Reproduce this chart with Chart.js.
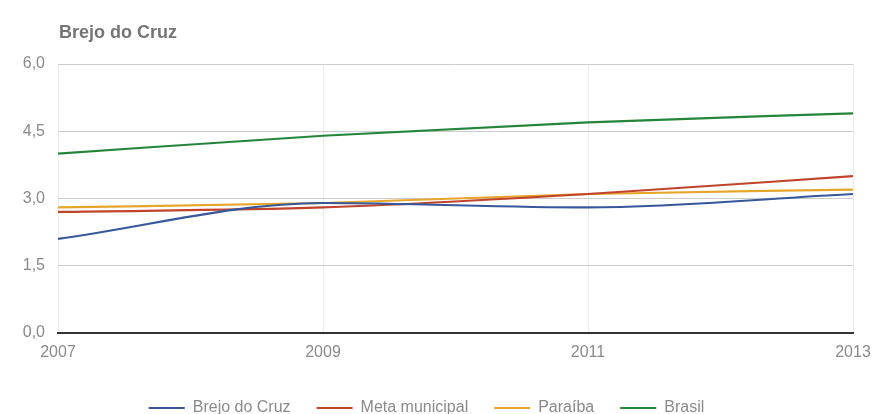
<!DOCTYPE html>
<html>
<head>
<meta charset="utf-8">
<script src="https://cdn.jsdelivr.net/npm/chart.js@4/dist/chart.umd.min.js"></script>
<style>
  html, body { margin: 0; padding: 0; background: #fff; }
</style>
</head>
<body>
<canvas id="chart" width="873" height="414"></canvas>
<script>
const years = [2007, 2009, 2011, 2013];
const brejoDoCruz = [2.1, 2.9, 2.8, 3.1];
const metaMunicipal = [2.7, 2.8, 3.1, 3.5];
const paraiba = [2.8, 2.9, 3.1, 3.2];
const brasil = [4.0, 4.4, 4.7, 4.9];
const yTicks = [0, 1.5, 3, 4.5, 6];
const xTicks = [2007, 2009, 2011, 2013];

const FONT = "Arial, 'Liberation Sans', sans-serif";

function toPoints(vals) {
  return vals.map((v, i) => ({ x: years[i], y: v }));
}

function series(label, vals, color) {
  return {
    label: label,
    data: toPoints(vals),
    borderColor: color,
    backgroundColor: color,
    borderWidth: 2.2,
    pointRadius: 0,
    pointHoverRadius: 0,
    cubicInterpolationMode: "monotone",
    fill: false
  };
}

// title drawn at the left edge of the plot area
const titlePlugin = {
  id: "leftTitle",
  afterDraw(chart) {
    const ctx = chart.ctx;
    ctx.save();
    ctx.font = "bold 18px " + FONT;
    ctx.fillStyle = "#757575";
    ctx.textBaseline = "middle";
    ctx.textAlign = "left";
    ctx.fillText("Brejo do Cruz", chart.chartArea.left + 1, 33);
    ctx.restore();
  }
};

const config = {
  type: "line",
  data: {
    datasets: [
      series("Brejo do Cruz", brejoDoCruz, "#36589a"),
      series("Meta municipal", metaMunicipal, "#c0432a"),
      series("Paraíba", paraiba, "#e6a62c"),
      series("Brasil", brasil, "#23853a")
    ]
  },
  plugins: [titlePlugin],
  options: {
    responsive: false,
    animation: false,
    layout: { padding: { top: 64, right: 20, left: 0, bottom: -12 } },
    plugins: {
      title: { display: false },
      tooltip: { enabled: false },
      legend: {
        position: "bottom",
        labels: {
          usePointStyle: true,
          pointStyle: "line",
          pointStyleWidth: 36,
          boxHeight: 3,
          color: "#8a8a8a",
          padding: 26,
          font: { family: FONT, size: 16 }
        }
      }
    },
    scales: {
      x: {
        type: "linear",
        min: 2007,
        max: 2013,
        afterBuildTicks(scale) {
          scale.ticks = xTicks.map(v => ({ value: v }));
        },
        afterFit(scale) {
          scale.height = 41;
          scale.paddingLeft = 0;
          scale.paddingRight = 0;
        },
        ticks: {
          color: "#8a8a8a",
          font: { family: FONT, size: 16 },
          padding: 10,
          maxRotation: 0,
          callback: v => String(v)
        },
        grid: { color: "#ececec", drawTicks: false },
        border: { color: "#333333", width: 2 }
      },
      y: {
        min: 0,
        max: 6,
        afterBuildTicks(scale) {
          scale.ticks = yTicks.map(v => ({ value: v }));
        },
        afterFit(scale) { scale.width = 58; },
        ticks: {
          color: "#8a8a8a",
          font: { family: FONT, size: 16 },
          padding: 13,
          callback: v => v.toFixed(1).replace(".", ",")
        },
        grid: { color: "#cccccc", drawTicks: false },
        border: { display: false }
      }
    }
  }
};

new Chart(document.getElementById("chart"), config);
</script>
</body>
</html>
